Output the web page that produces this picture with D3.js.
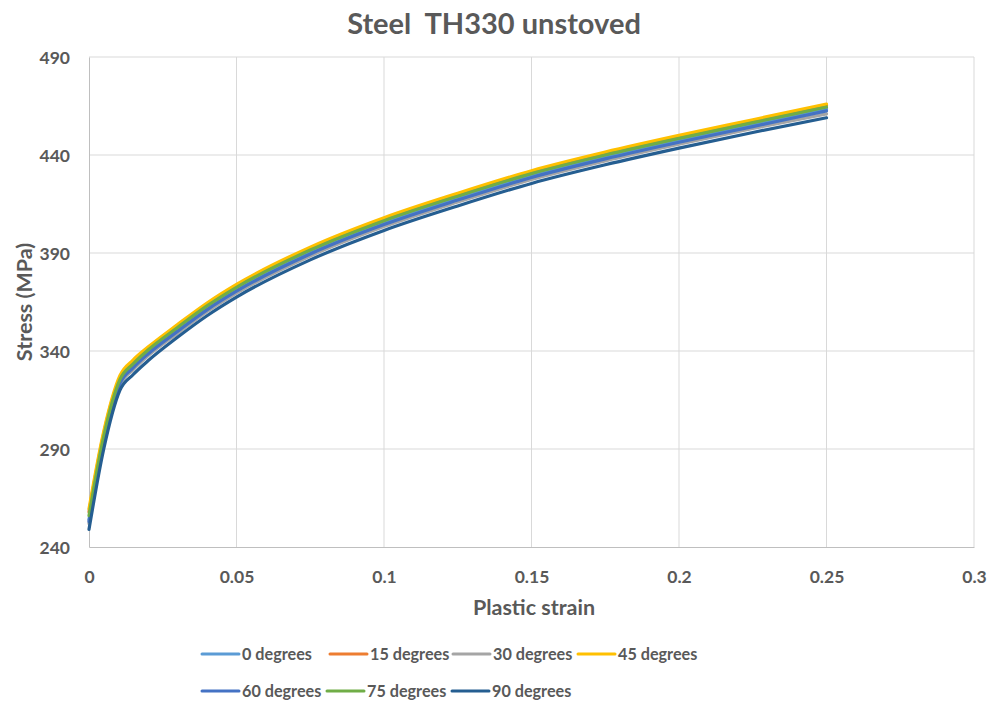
<!DOCTYPE html>
<html>
<head>
<meta charset="utf-8">
<script src="https://cdn.jsdelivr.net/npm/d3@7/dist/d3.min.js"></script>
<style>
  html, body { margin: 0; padding: 0; background: #ffffff; }
  svg text { font-family: Lato, "Liberation Sans", sans-serif; font-weight: bold; fill: #595959; white-space: pre; }
</style>
</head>
<body>
<svg id="chart" width="992" height="702"></svg>
<script>
// ---- data ----
const strain = [0, 0.005, 0.0105, 0.015, 0.02, 0.03, 0.04, 0.05, 0.075, 0.1, 0.125, 0.15, 0.175, 0.2, 0.225, 0.25];
const deg0  = [254, 295, 324.5, 332.5, 339.5, 351, 362, 371.5, 390.5, 405.5, 418, 429.5, 439, 447.5, 455.5, 463.5];
const deg15 = [258, 298, 326.5, 334.5, 341.5, 353, 364, 373.5, 392.5, 407.5, 420, 431.5, 441, 449.5, 457.5, 465.5];
const deg30 = [252, 293, 322.5, 330.5, 337.5, 349, 360, 369.5, 388.5, 403.5, 416, 427.5, 437, 445.5, 453.5, 461];
const deg45 = [259.5, 299, 327.5, 335.5, 342, 353.5, 364.5, 374, 393, 408, 420.5, 432, 441.5, 450, 458, 466];
const deg60 = [253, 294, 323.5, 331.5, 338.5, 350, 361, 370.5, 389.5, 404.5, 417, 428.5, 438, 446.5, 454.5, 462.5];
const deg75 = [256, 296.5, 325.5, 333.5, 340.5, 352, 363, 372.5, 391.5, 406.5, 419, 430.5, 440, 448.5, 456.5, 464.5];
const deg90 = [249, 290, 320, 328, 335, 347, 358, 367.5, 386.5, 401.5, 414, 425.5, 435, 443.5, 451.5, 459];
const seriesNames = ["0 degrees", "15 degrees", "30 degrees", "45 degrees", "60 degrees", "75 degrees", "90 degrees"];
const seriesValues = [deg0, deg15, deg30, deg45, deg60, deg75, deg90];
const seriesColors = ["#5B9BD5", "#ED7D31", "#A5A5A5", "#FFC000", "#4472C4", "#70AD47", "#255E91"];
const xTicks = [0, 0.05, 0.1, 0.15, 0.2, 0.25, 0.3];
const yTicks = [240, 290, 340, 390, 440, 490];
const titleText = "Steel  TH330 unstoved";
const xTitle = "Plastic strain";
const yTitle = "Stress (MPa)";

// ---- layout ----
const svg = d3.select("#chart");
const pLeft = 89, pRight = 974, pTop = 57, pBottom = 547;
const x = d3.scaleLinear().domain([0, 0.3]).range([pLeft, pRight]);
const y = d3.scaleLinear().domain([240, 490]).range([pBottom, pTop]);

// gridlines
svg.append("g").selectAll("line").data(yTicks.slice(1)).join("line")
  .attr("x1", pLeft).attr("x2", pRight)
  .attr("y1", d => y(d)).attr("y2", d => y(d))
  .attr("stroke", "#d9d9d9").attr("stroke-width", 1);
svg.append("g").selectAll("line").data(xTicks.slice(1)).join("line")
  .attr("y1", pTop).attr("y2", pBottom)
  .attr("x1", d => x(d)).attr("x2", d => x(d))
  .attr("stroke", "#d9d9d9").attr("stroke-width", 1);

// axes
const xAxis = d3.axisBottom(x).tickValues(xTicks).tickSize(0).tickPadding(0)
  .tickFormat(d => String(d));
const gx = svg.append("g").attr("transform", `translate(0,${pBottom})`).call(xAxis);
gx.select(".domain").attr("stroke", "#bfbfbf").attr("stroke-width", 1);
gx.selectAll("text").attr("dy", null).attr("y", 36).style("font-size", "17.5px").attr("fill", "#595959");

const yAxis = d3.axisLeft(y).tickValues(yTicks).tickSize(0).tickPadding(0);
const gy = svg.append("g").attr("transform", `translate(${pLeft},0)`).call(yAxis);
gy.select(".domain").attr("stroke", "#bfbfbf").attr("stroke-width", 1);
gy.selectAll("text").attr("x", -19).attr("dy", "0.35em").style("font-size", "17.5px").attr("fill", "#595959");

// lines
const line = d3.line().x((d, i) => x(strain[i])).y(d => y(d)).curve(d3.curveMonotoneX);
svg.append("g").selectAll("path").data(seriesValues).join("path")
  .attr("d", d => line(d))
  .attr("fill", "none")
  .attr("stroke", (d, i) => seriesColors[i])
  .attr("stroke-width", 3.2)
  .attr("stroke-linejoin", "round")
  .attr("stroke-linecap", "round");

// titles
svg.append("text").attr("x", 494).attr("y", 34).attr("text-anchor", "middle")
  .style("font-size", "29px").text(titleText);
svg.append("text").attr("x", 534).attr("y", 615).attr("text-anchor", "middle")
  .style("font-size", "21.5px").text(xTitle);
svg.append("text").attr("transform", `translate(32,${(pTop + pBottom) / 2}) rotate(-90)`)
  .attr("text-anchor", "middle").style("font-size", "21.5px").text(yTitle);

// legend
const legendPos = [[202, 654], [330, 654], [453, 654], [578, 654], [202, 691], [327, 691], [452, 691]];
const lg = svg.append("g").selectAll("g").data(seriesNames).join("g")
  .attr("transform", (d, i) => `translate(${legendPos[i][0]},${legendPos[i][1]})`);
lg.append("line").attr("x1", 0).attr("x2", 37).attr("y1", 0).attr("y2", 0)
  .attr("stroke", (d, i) => seriesColors[i]).attr("stroke-width", 3).attr("stroke-linecap", "round");
lg.append("text").attr("x", 40).attr("y", 6).style("font-size", "16.2px").text(d => d);
</script>
</body>
</html>
